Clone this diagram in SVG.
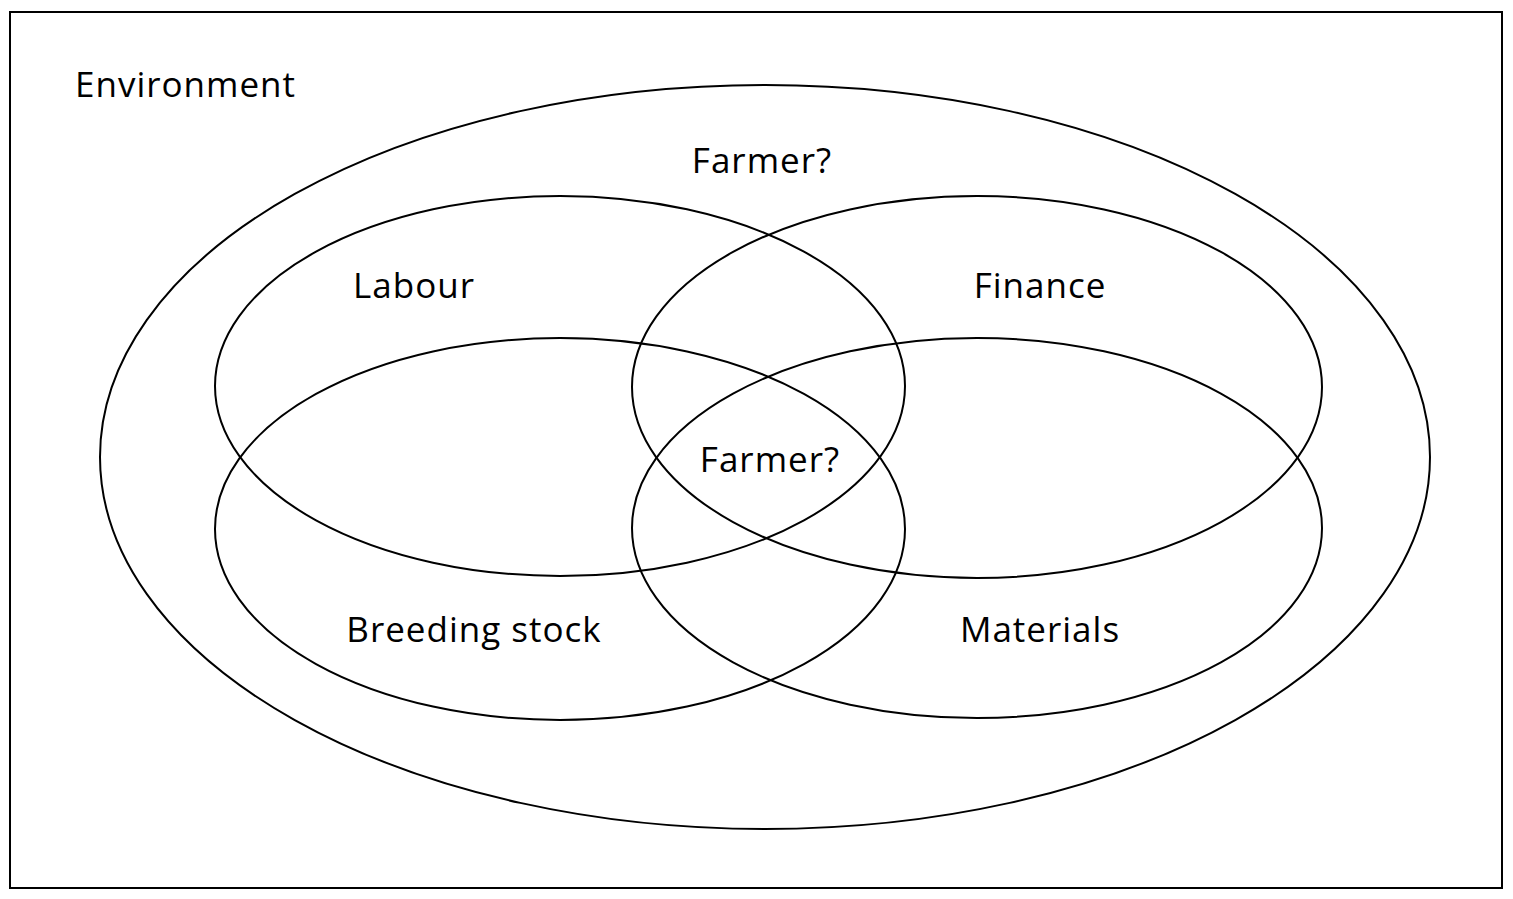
<svg xmlns="http://www.w3.org/2000/svg" width="1513" height="899" viewBox="0 0 1513 899">
<style>
.s{fill:none;stroke:#000;stroke-width:2}
text{font-family:"Open Sans","Liberation Sans",sans-serif;font-size:35px;letter-spacing:1px;fill:#000}
.c{text-anchor:middle}
</style>
<rect x="0" y="0" width="1513" height="899" fill="#fff"/>
<rect class="s" x="10" y="12" width="1492" height="876"/>
<g id="environment"><ellipse class="s" cx="765" cy="457" rx="665" ry="372"/><text x="75" y="97">Environment</text><text class="c" x="762" y="173">Farmer?</text></g>
<g id="labour"><ellipse class="s" cx="560" cy="386" rx="345" ry="190"/><text class="c" x="414" y="298">Labour</text></g>
<g id="finance"><ellipse class="s" cx="977" cy="387" rx="345" ry="191"/><text class="c" x="1040" y="298">Finance</text></g>
<g id="breeding"><ellipse class="s" cx="560" cy="529" rx="345" ry="191"/><text class="c" x="474" y="642">Breeding stock</text></g>
<g id="materials"><ellipse class="s" cx="977" cy="528" rx="345" ry="190"/><text class="c" x="1040" y="642">Materials</text></g>
<g id="center"><text class="c" x="770" y="472">Farmer?</text></g>
<g id="connectors"/>
</svg>
